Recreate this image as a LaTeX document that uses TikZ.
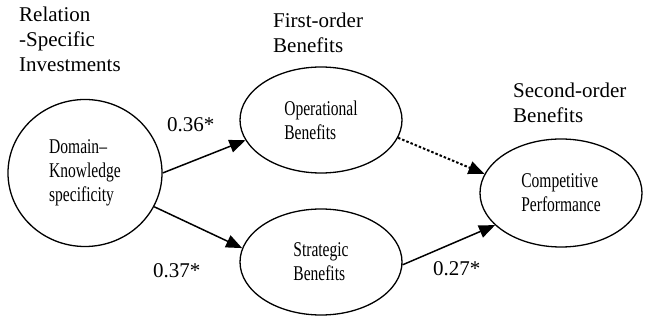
\documentclass[tikz,border=0pt]{standalone}
\usepackage{fontspec}
\setmainfont{Liberation Serif}
\newfontfamily\squeezed[FakeStretch=0.74,Ligatures=TeX]{Liberation Serif}
\usetikzlibrary{arrows.meta,shapes.geometric}
\begin{document}
\begin{tikzpicture}
  [x=1pt,y=-1pt,every node/.style={inner sep=0pt,font=\fontsize{21}{25}\selectfont},
   latent/.style={ellipse,draw,line width=1.3pt,align=left,font=\squeezed\fontsize{21}{24}\selectfont},
   head/.style={anchor=base west,align=left},
   weight/.style={anchor=base west},
   link/.style={line width=1.5pt,-{Triangle[length=16pt,width=13pt]}}]
\useasboundingbox (0,0) rectangle (650,320);

\node (h1)[head] at (19,72) {Relation\\-Specific\\Investments};
  \node (h2)[head] at (273,53) {First-order\\Benefits};
  \node (h3)[head] at (513,123) {Second-order\\Benefits};

\node (n1)[latent,minimum width=154pt,minimum height=147pt] at (85,173) {Domain–\\Knowledge\\specificity};
  \node (n2)[latent,minimum width=162pt,minimum height=106pt] at (321,120) {Operational\\Benefits};
  \node (n3)[latent,minimum width=162pt,minimum height=106pt] at (321,262) {Strategic\\Benefits};
  \node (n4)[latent,minimum width=162pt,minimum height=108pt] at (561,193) {Competitive\\Performance};

\node (w1)[weight] at (167,132) {0.36*};
  \node (w2)[weight] at (153,277) {0.37*};
  \node (w3)[weight] at (433,275) {0.27*};

 \path [link] (n1.0) edge (n2.195);
 \path [link] (n1.-26) edge (n3.170);
 \path [link] (n3.-2) edge (n4.206);
 \path [link,line width=2pt,dash pattern=on 2.5pt off 2pt] (n2.-13) edge (n4.166);
;
\end{tikzpicture}
\end{document}
